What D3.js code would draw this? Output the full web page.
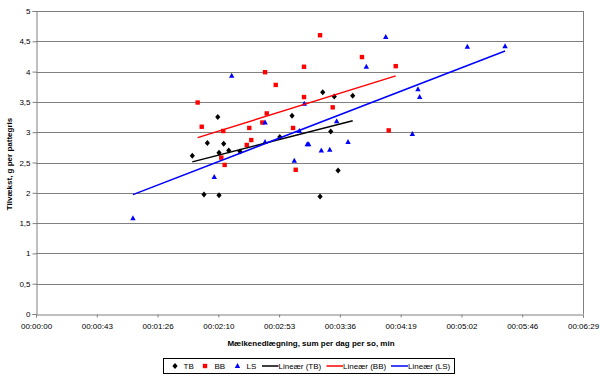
<!DOCTYPE html>
<html>
<head>
<meta charset="utf-8">
<script src="https://cdn.jsdelivr.net/npm/d3@7"></script>
<style>
  body { margin: 0; background: #fff; }
  svg { font-family: Arial, "Liberation Sans", sans-serif; }
  .tick text { font-size: 8px; fill: #000; }
</style>
</head>
<body>
<svg id="chart" width="600" height="378"></svg>
<script>
// x values in seconds (Mælkenedlægning), y values in g per pattegris
var tbX = [111.1, 121.8, 129.2, 130.1, 133.4, 137.0, 145.0, 119.4, 130.1, 173.3, 182.0, 203.8, 212.0, 225.1, 209.5, 214.7, 201.9];
var tbY = [2.61, 2.82, 3.25, 2.66, 2.81, 2.70, 2.68, 1.97, 1.96, 2.92, 3.27, 3.66, 3.59, 3.60, 3.01, 2.37, 1.94];

var bbX = [114.9, 117.8, 133.1, 131.7, 134.1, 151.6, 153.0, 149.8, 160.9, 164.0, 162.8, 170.4, 190.5, 190.5, 201.9, 182.7, 184.6, 210.9, 231.7, 255.7, 250.7];
var bbY = [3.49, 3.09, 3.02, 2.58, 2.46, 3.07, 2.87, 2.79, 3.16, 3.31, 3.99, 3.78, 3.58, 4.08, 4.60, 3.07, 2.38, 3.41, 4.24, 4.09, 3.03];

var lsX = [68.9, 126.7, 139.1, 162.8, 162.8, 190.7, 187.2, 183.6, 192.8, 193.8, 202.8, 208.8, 213.7, 221.8, 234.8, 248.6, 267.5, 271.5, 272.7, 306.6, 333.4];
var lsY = [1.58, 2.26, 3.93, 3.16, 2.84, 3.47, 3.02, 2.53, 2.80, 2.80, 2.70, 2.71, 3.18, 2.84, 4.08, 4.57, 2.97, 3.71, 3.58, 4.41, 4.42];

// linear trend values at start and end of each series
var trendTB = [2.51, 3.19];
var trendBB = [2.91, 3.93];
var trendLS = [1.97, 4.34];

var xTickValues = [0, 43.2, 86.4, 129.6, 172.8, 216, 259.2, 302.4, 345.6, 388.8];
var yTickValues = [0, 0.5, 1, 1.5, 2, 2.5, 3, 3.5, 4, 4.5, 5];

var svg = d3.select("#chart");

var dims = { left: 36, right: 583, top: 11, bottom: 314 };

var xScale = d3.scaleLinear().domain([0, 388.8]).range([dims.left, dims.right]);
var yScale = d3.scaleLinear().domain([0, 5]).range([dims.bottom, dims.top]);

function fmtTime(s) {
  var t = Math.round(s);
  var h = Math.floor(t / 3600), m = Math.floor((t % 3600) / 60), sec = t % 60;
  var p = (v) => (v < 10 ? "0" : "") + v;
  return p(h) + ":" + p(m) + ":" + p(sec);
}

// gridlines
svg.append("g")
  .selectAll("line")
  .data(yTickValues.slice(1))
  .enter()
  .append("line")
  .attr("x1", dims.left)
  .attr("x2", dims.right)
  .attr("y1", (d) => Math.round(yScale(d)) + 0.5)
  .attr("y2", (d) => Math.round(yScale(d)) + 0.5)
  .attr("stroke", "#808080")
  .attr("stroke-width", 1);

// right border of the plot area
svg.append("line")
  .attr("x1", dims.right + 0.5).attr("x2", dims.right + 0.5)
  .attr("y1", dims.top).attr("y2", dims.bottom)
  .attr("stroke", "#808080");

var yAxis = d3.axisLeft(yScale)
  .tickValues(yTickValues)
  .tickSize(4)
  .tickPadding(2)
  .tickFormat((d) => String(d).replace(".", ","));

var xAxis = d3.axisBottom(xScale)
  .tickValues(xTickValues)
  .tickSize(3)
  .tickPadding(6)
  .tickFormat(fmtTime);

svg.append("g")
  .attr("transform", "translate(" + (dims.left + 0.5) + ",0)")
  .call(yAxis)
  .call((g) => g.select(".domain").attr("stroke", "#808080"))
  .call((g) => g.selectAll(".tick line").attr("stroke", "#808080"));

svg.append("g")
  .attr("transform", "translate(0," + (dims.bottom + 0.5) + ")")
  .call(xAxis)
  .call((g) => g.select(".domain").attr("stroke", "#808080"))
  .call((g) => g.selectAll(".tick line").attr("stroke", "#808080"));

// axis titles
svg.append("text")
  .text("Mælkenedlægning, sum per dag per so, min")
  .attr("x", 311)
  .attr("y", 346)
  .attr("text-anchor", "middle")
  .attr("font-size", "8px")
  .attr("font-weight", "bold");

svg.append("text")
  .text("Tilvækst, g per pattegris")
  .attr("transform", "translate(12,164) rotate(-90)")
  .attr("text-anchor", "middle")
  .attr("font-size", "8px")
  .attr("font-weight", "bold");

// marker shapes
function diamond(x, y) {
  return "M" + x + "," + (y - 3) + "L" + (x + 2.6) + "," + y + "L" + x + "," + (y + 3) + "L" + (x - 2.6) + "," + y + "Z";
}
function square(x, y) {
  return "M" + (x - 2.2) + "," + (y - 2.2) + "h4.4v4.4h-4.4Z";
}
function triangle(x, y) {
  return "M" + x + "," + (y - 3) + "L" + (x + 2.7) + "," + (y + 2) + "L" + (x - 2.7) + "," + (y + 2) + "Z";
}

var series = [
  { name: "TB", xs: tbX, ys: tbY, trend: trendTB, color: "#000000", shape: diamond },
  { name: "BB", xs: bbX, ys: bbY, trend: trendBB, color: "#ff0000", shape: square },
  { name: "LS", xs: lsX, ys: lsY, trend: trendLS, color: "#0000ff", shape: triangle },
];

series.forEach((s) => {
  var pts = s.xs.map((x, i) => ({ x: x, y: s.ys[i] }));
  svg.append("g")
    .selectAll("path")
    .data(pts)
    .enter()
    .append("path")
    .attr("d", (d) => s.shape(xScale(d.x), yScale(d.y)))
    .attr("fill", s.color);
});

// trend lines drawn over the markers
series.forEach((s) => {
  var ext = d3.extent(s.xs);
  svg.append("line")
    .attr("x1", xScale(ext[0]))
    .attr("y1", yScale(s.trend[0]))
    .attr("x2", xScale(ext[1]))
    .attr("y2", yScale(s.trend[1]))
    .attr("stroke", s.color)
    .attr("stroke-width", 1.5);
});

// legend
var legend = svg.append("g");
legend.append("rect")
  .attr("x", 163.5).attr("y", 358.5)
  .attr("width", 291).attr("height", 15)
  .attr("fill", "#fff")
  .attr("stroke", "#000")
  .attr("stroke-width", 1);

var ly = 366;
var legendMarkers = [
  { label: "TB", mx: 175, tx: 183.5 },
  { label: "BB", mx: 205, tx: 214.5 },
  { label: "LS", mx: 237.5, tx: 246.5 },
];
legendMarkers.forEach((m, i) => {
  legend.append("path")
    .attr("d", series[i].shape(m.mx, ly))
    .attr("fill", series[i].color);
  legend.append("text")
    .text(m.label)
    .attr("x", m.tx).attr("y", ly + 3)
    .attr("font-size", "8px");
});

var legendLines = [
  { label: "Lineær (TB)", x1: 262, x2: 278.5 },
  { label: "Lineær (BB)", x1: 326.5, x2: 343 },
  { label: "Lineær (LS)", x1: 391, x2: 408 },
];
legendLines.forEach((l, i) => {
  legend.append("line")
    .attr("x1", l.x1).attr("x2", l.x2)
    .attr("y1", ly).attr("y2", ly)
    .attr("stroke", series[i].color)
    .attr("stroke-width", 1.5);
  legend.append("text")
    .text(l.label)
    .attr("x", l.x2).attr("y", ly + 3)
    .attr("font-size", "8px");
});
</script>
</body>
</html>
